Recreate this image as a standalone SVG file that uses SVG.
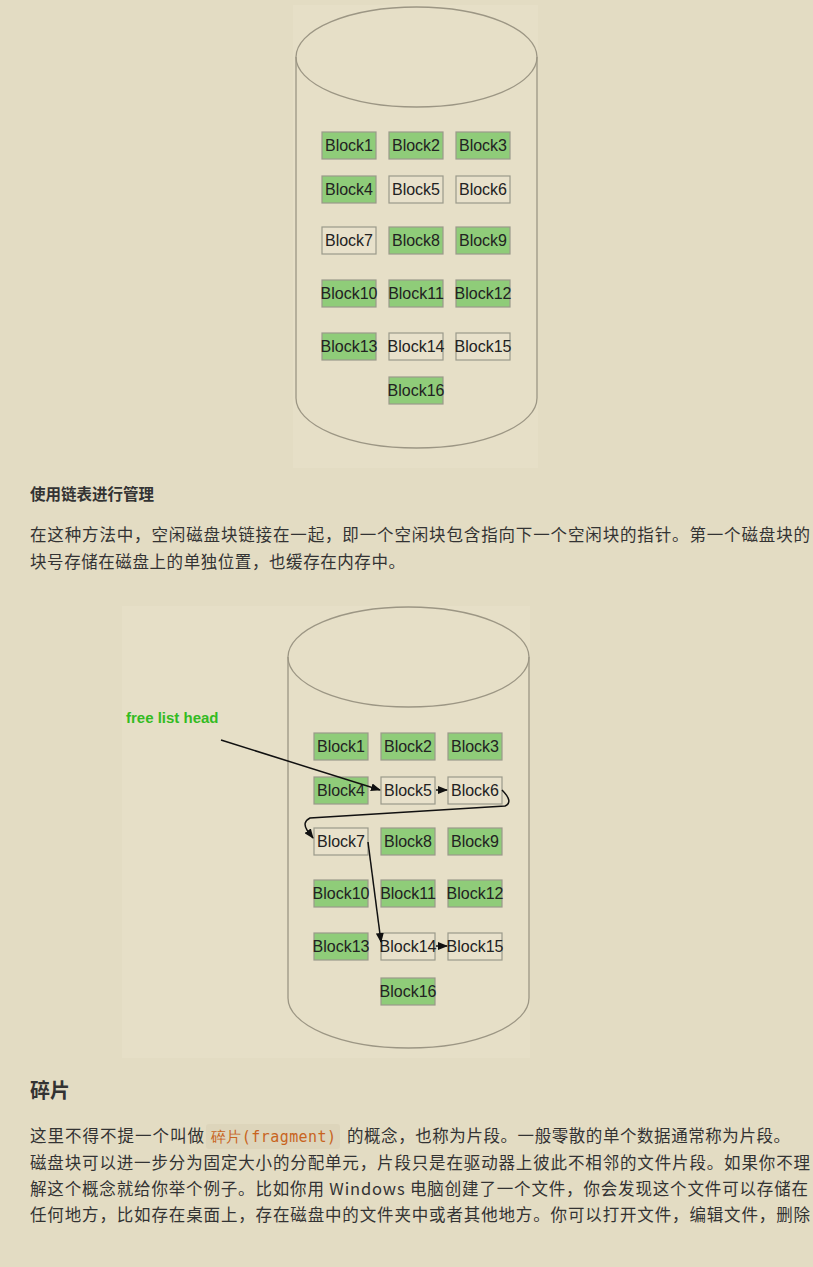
<svg xmlns="http://www.w3.org/2000/svg" width="813" height="1267" viewBox="0 0 813 1267">
<style>
.b{stroke:#9a9a8a;stroke-width:1.2}
.g{fill:#8fcc79}
.w{fill:#e8e1cb}
.bt{font-family:"Liberation Sans",Arial,sans-serif;font-size:16px;fill:#222;text-anchor:middle}
.cyl{fill:none;stroke:#9c9684;stroke-width:1.3}
.t{font-family:"Noto Sans CJK SC","Liberation Sans",sans-serif;font-size:16.5px;fill:#333}
.ln{fill:none;stroke:#111;stroke-width:1.5}
</style>
<defs>
<marker id="a" markerWidth="10" markerHeight="8" refX="9" refY="4" orient="auto" markerUnits="userSpaceOnUse"><path d="M0,0L10,4L0,8z" fill="#111"/></marker>
</defs>
<rect width="813" height="1267" fill="#e3dcc3"/>
<rect x="293" y="5" width="245" height="463" fill="#e6dfc7"/>
<rect x="122" y="606" width="408" height="452" fill="#e6dfc7"/>
<g id="disk1">
<path class="cyl" d="M296,57 A120.5,50 0 0 1 537,57 L537,398 A120.5,50 0 0 1 296,398 Z"/>
<path class="cyl" d="M296,57 A120.5,50 0 0 0 537,57"/>
</g>
<g id="blocks1">
<rect class="b g" x="322" y="132" width="54" height="27"/><text class="bt" x="349" y="151">Block1</text>
<rect class="b g" x="389" y="132" width="54" height="27"/><text class="bt" x="416" y="151">Block2</text>
<rect class="b g" x="456" y="132" width="54" height="27"/><text class="bt" x="483" y="151">Block3</text>
<rect class="b g" x="322" y="176" width="54" height="27"/><text class="bt" x="349" y="195">Block4</text>
<rect class="b w" x="389" y="176" width="54" height="27"/><text class="bt" x="416" y="195">Block5</text>
<rect class="b w" x="456" y="176" width="54" height="27"/><text class="bt" x="483" y="195">Block6</text>
<rect class="b w" x="322" y="227" width="54" height="27"/><text class="bt" x="349" y="246">Block7</text>
<rect class="b g" x="389" y="227" width="54" height="27"/><text class="bt" x="416" y="246">Block8</text>
<rect class="b g" x="456" y="227" width="54" height="27"/><text class="bt" x="483" y="246">Block9</text>
<rect class="b g" x="322" y="280" width="54" height="27"/><text class="bt" x="349" y="299">Block10</text>
<rect class="b g" x="389" y="280" width="54" height="27"/><text class="bt" x="416" y="299">Block11</text>
<rect class="b g" x="456" y="280" width="54" height="27"/><text class="bt" x="483" y="299">Block12</text>
<rect class="b g" x="322" y="333" width="54" height="27"/><text class="bt" x="349" y="352">Block13</text>
<rect class="b w" x="389" y="333" width="54" height="27"/><text class="bt" x="416" y="352">Block14</text>
<rect class="b w" x="456" y="333" width="54" height="27"/><text class="bt" x="483" y="352">Block15</text>
<rect class="b g" x="389" y="377" width="54" height="27"/><text class="bt" x="416" y="396">Block16</text>
</g>
<text x="30" y="500" font-family="Noto Sans CJK SC,sans-serif" font-size="15.5" font-weight="bold" fill="#333">使用链表进行管理</text>
<text class="t" x="30" y="541" textLength="780" lengthAdjust="spacing">在这种方法中，空闲磁盘块链接在一起，即一个空闲块包含指向下一个空闲块的指针。第一个磁盘块的</text>
<text class="t" x="30" y="568" textLength="375" lengthAdjust="spacing">块号存储在磁盘上的单独位置，也缓存在内存中。</text>
<g id="disk2">
<path class="cyl" d="M288,657 A120.5,50 0 0 1 529,657 L529,998 A120.5,50 0 0 1 288,998 Z"/>
<path class="cyl" d="M288,657 A120.5,50 0 0 0 529,657"/>
</g>
<text x="126" y="723" font-family="Liberation Sans,Arial,sans-serif" font-size="15" font-weight="bold" fill="#33bb22">free list head</text>
<g id="blocks2">
<rect class="b g" x="314" y="733" width="54" height="27"/><text class="bt" x="341" y="752">Block1</text>
<rect class="b g" x="381" y="733" width="54" height="27"/><text class="bt" x="408" y="752">Block2</text>
<rect class="b g" x="448" y="733" width="54" height="27"/><text class="bt" x="475" y="752">Block3</text>
<rect class="b g" x="314" y="777" width="54" height="27"/><text class="bt" x="341" y="796">Block4</text>
<rect class="b w" x="381" y="777" width="54" height="27"/><text class="bt" x="408" y="796">Block5</text>
<rect class="b w" x="448" y="777" width="54" height="27"/><text class="bt" x="475" y="796">Block6</text>
<rect class="b w" x="314" y="828" width="54" height="27"/><text class="bt" x="341" y="847">Block7</text>
<rect class="b g" x="381" y="828" width="54" height="27"/><text class="bt" x="408" y="847">Block8</text>
<rect class="b g" x="448" y="828" width="54" height="27"/><text class="bt" x="475" y="847">Block9</text>
<rect class="b g" x="314" y="880" width="54" height="27"/><text class="bt" x="341" y="899">Block10</text>
<rect class="b g" x="381" y="880" width="54" height="27"/><text class="bt" x="408" y="899">Block11</text>
<rect class="b g" x="448" y="880" width="54" height="27"/><text class="bt" x="475" y="899">Block12</text>
<rect class="b g" x="314" y="933" width="54" height="27"/><text class="bt" x="341" y="952">Block13</text>
<rect class="b w" x="381" y="933" width="54" height="27"/><text class="bt" x="408" y="952">Block14</text>
<rect class="b w" x="448" y="933" width="54" height="27"/><text class="bt" x="475" y="952">Block15</text>
<rect class="b g" x="381" y="978" width="54" height="27"/><text class="bt" x="408" y="997">Block16</text>
</g>
<g id="connectors">
<path class="ln" d="M221,740 L380,790" marker-end="url(#a)"/>
<path class="ln" d="M436,790 L447,790" marker-end="url(#a)"/>
<path class="ln" d="M502,790 Q514,802 505,806 L310,818 Q302,822 307,830 L313,838" marker-end="url(#a)"/>
<path class="ln" d="M368,842 L381,942" marker-end="url(#a)"/>
<path class="ln" d="M436,946 L447,946" marker-end="url(#a)"/>
</g>
<text x="30" y="1098" font-family="Noto Sans CJK SC,sans-serif" font-size="20" font-weight="bold" fill="#333">碎片</text>
<rect x="206" y="1124" width="134" height="25" rx="3" fill="#ddd5bb"/>
<text class="t" x="30" y="1142" textLength="174" lengthAdjust="spacing">这里不得不提一个叫做</text>
<text x="211" y="1142" textLength="125" lengthAdjust="spacing" font-family="DejaVu Sans Mono,monospace" font-size="15" fill="#c8641e">碎片(fragment)</text>
<text class="t" x="347" y="1142" textLength="443" lengthAdjust="spacing">的概念，也称为片段。一般零散的单个数据通常称为片段。</text>
<text class="t" x="30" y="1169" textLength="780" lengthAdjust="spacing">磁盘块可以进一步分为固定大小的分配单元，片段只是在驱动器上彼此不相邻的文件片段。如果你不理</text>
<text class="t" x="30" y="1195" textLength="778" lengthAdjust="spacing">解这个概念就给你举个例子。比如你用 Windows 电脑创建了一个文件，你会发现这个文件可以存储在</text>
<text class="t" x="30" y="1221" textLength="780" lengthAdjust="spacing">任何地方，比如存在桌面上，存在磁盘中的文件夹中或者其他地方。你可以打开文件，编辑文件，删除</text>
</svg>
